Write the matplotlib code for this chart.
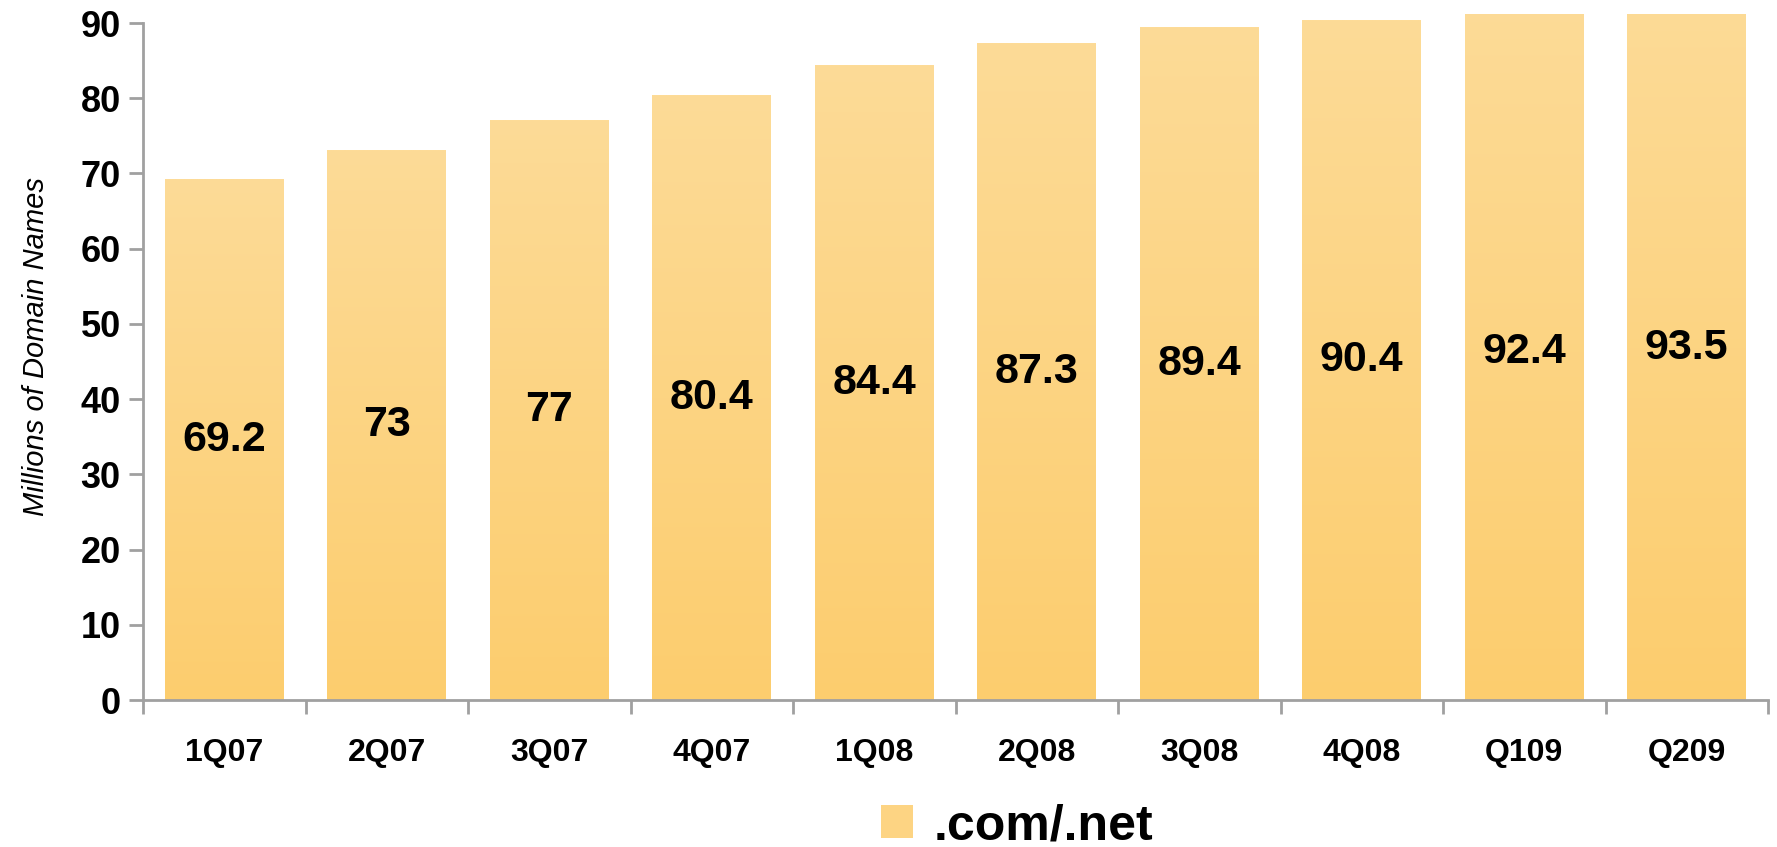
import numpy as np
import matplotlib
matplotlib.use("Agg")
import matplotlib.pyplot as plt
from matplotlib.colors import LinearSegmentedColormap
from matplotlib.patches import Patch

# ==================== ------ DATA ------- ====================
quarters = ["1Q07", "2Q07", "3Q07", "4Q07", "1Q08", "2Q08", "3Q08", "4Q08", "Q109", "Q209"]
domains = [69.2, 73, 77, 80.4, 84.4, 87.3, 89.4, 90.4, 92.4, 93.5]
value_labels = ["69.2", "73", "77", "80.4", "84.4", "87.3", "89.4", "90.4", "92.4", "93.5"]
series_name = ".com/.net"

plt.rcParams["font.family"] = ["Liberation Sans", "DejaVu Sans"]

top_color = "#FDDB97"
bottom_color = "#FCCD6E"
cmap = LinearSegmentedColormap.from_list("bar_grad", [bottom_color, top_color])
grey = "#A0A0A0"

fig = plt.figure(figsize=(17.77, 8.47), dpi=100)
ax = fig.add_axes([143 / 1777, 147 / 847, (1768 - 143) / 1777, (700 - 14) / 847])

x = np.arange(len(quarters))
bar_w = 0.73
bars = ax.bar(x, domains, width=bar_w, color="none", edgecolor="none")

# gradient fill, light at top, darker at bottom
grad = np.linspace(0, 1, 256).reshape(-1, 1)
for b in bars:
    x0, y0 = b.get_x(), b.get_y()
    ax.imshow(grad, cmap=cmap, origin="lower", aspect="auto",
              extent=[x0, x0 + b.get_width(), y0, y0 + b.get_height()], zorder=1)

for xi, v, lab in zip(x, domains, value_labels):
    ax.text(xi, v / 2, lab, ha="center", va="center", fontsize=31, fontweight="bold", zorder=3)

ax.set_xlim(-0.5, len(quarters) - 0.5)
ax.set_ylim(0, 91.2)

ax.set_yticks(np.arange(0, 91, 10))
ax.tick_params(axis="y", labelsize=26, width=2, length=10, color=grey, pad=6)
for t in ax.get_yticklabels():
    t.set_fontweight("bold")

ax.set_xticks(x)
ax.set_xticklabels(quarters, fontsize=23, fontweight="bold")
ax.set_xticks(np.arange(-0.5, len(quarters)), minor=True)
ax.tick_params(axis="x", which="major", length=0, pad=27)
ax.tick_params(axis="x", which="minor", length=10, width=2, color=grey)

for s in ["top", "right"]:
    ax.spines[s].set_visible(False)
for s in ["left", "bottom"]:
    ax.spines[s].set_color(grey)
    ax.spines[s].set_linewidth(2)
ax.spines["left"].set_bounds(0, 90)

ax.set_ylabel("Millions of Domain Names", fontsize=21, fontstyle="italic")
ax.yaxis.set_label_coords(-0.057, 0.515)

fig.legend(handles=[Patch(facecolor="#FDD483", edgecolor="none", label=series_name)],
           loc="center", bbox_to_anchor=(1017 / 1777, 1 - 826 / 847), frameon=False,
           prop={"size": 36, "weight": "bold"}, handlelength=0.65, handleheight=0.65,
           handletextpad=0.4)

plt.savefig("out.png", dpi=100)
plt.close()
